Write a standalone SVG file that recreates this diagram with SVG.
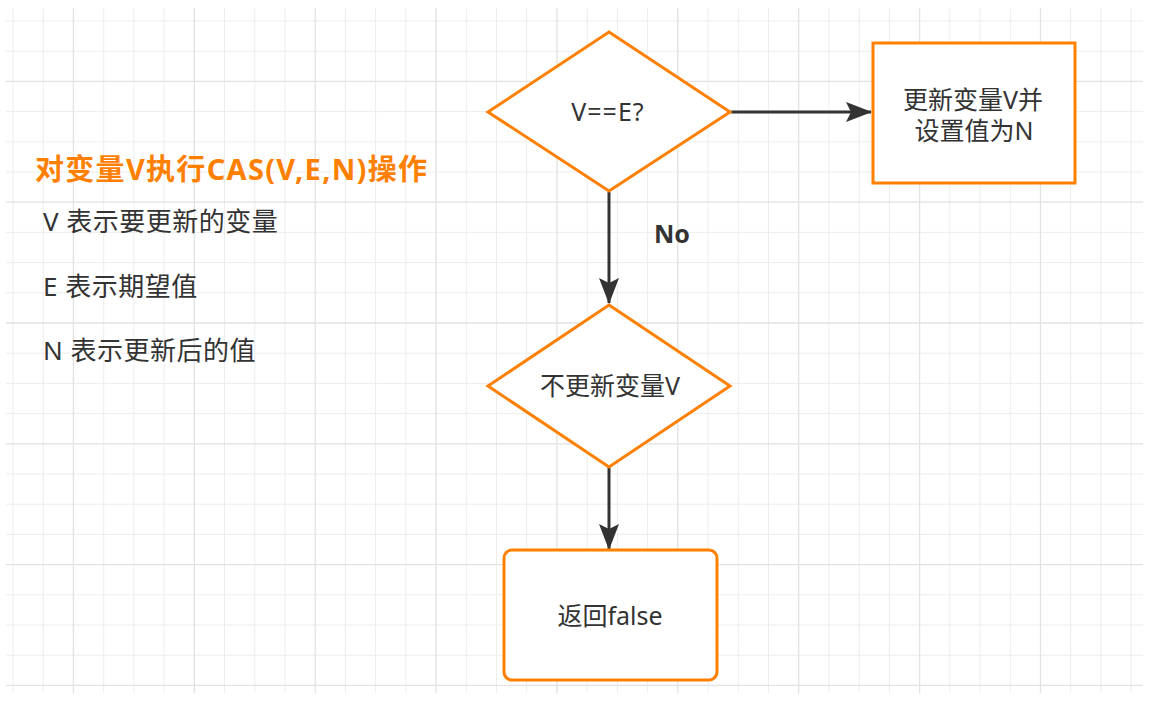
<svg xmlns="http://www.w3.org/2000/svg" width="1154" height="709" viewBox="0 0 1154 709">
<style>
.minor{stroke:#ededed;stroke-width:1;fill:none}
.major{stroke:#e2e2e2;stroke-width:1.3;fill:none}
.shape{fill:#ffffff;stroke:#ff8000;stroke-width:3}
.edge{stroke:#333333;stroke-width:3;fill:none}
.t{font-family:"Noto Sans","Noto Sans CJK SC",sans-serif;font-size:25px;fill:#333333}
.b{font-size:26px;letter-spacing:0.5px}
.c{text-anchor:middle}
.title{font-family:"Noto Sans","Noto Sans CJK SC",sans-serif;font-size:29px;font-weight:bold;fill:#ff8000;letter-spacing:1.3px}
.lbl{font-family:"Noto Sans","Noto Sans CJK SC",sans-serif;font-size:25px;font-weight:bold;fill:#333333}
</style>
<defs>
<marker id="arr" viewBox="0 0 26 20" refX="25" refY="10" markerWidth="26" markerHeight="20" markerUnits="userSpaceOnUse" orient="auto">
<path d="M0,0 L26,10 L0,20 L5,10 Z" fill="#333333"/>
</marker>
</defs>
<rect x="0" y="0" width="1154" height="709" fill="#ffffff"/>
<g id="grid">
<path class="minor" d="M13 8V693M43.2 8V693M103.7 8V693M133.9 8V693M164.1 8V693M224.5 8V693M254.8 8V693M285 8V693M345.4 8V693M375.6 8V693M405.9 8V693M466.3 8V693M496.5 8V693M526.7 8V693M587.2 8V693M617.4 8V693M647.6 8V693M708.1 8V693M738.3 8V693M768.5 8V693M828.9 8V693M859.2 8V693M889.4 8V693M949.8 8V693M980 8V693M1010.3 8V693M1070.7 8V693M1100.9 8V693M1131.1 8V693M6 21H1143M6 51.2H1143M6 111.6H1143M6 141.8H1143M6 172H1143M6 232.4H1143M6 262.6H1143M6 292.8H1143M6 353.2H1143M6 383.4H1143M6 413.6H1143M6 474H1143M6 504.2H1143M6 534.4H1143M6 594.8H1143M6 625H1143M6 655.2H1143"/>
<path class="major" d="M73.4 8V693M194.3 8V693M315.2 8V693M436.1 8V693M557 8V693M677.8 8V693M798.7 8V693M919.6 8V693M1040.5 8V693M6 81.4H1143M6 202.2H1143M6 323H1143M6 443.8H1143M6 564.6H1143M6 685.4H1143"/>
</g>
<g id="legend">
<text class="title" x="35" y="180">对变量V执行CAS(V,E,N)操作</text>
<text class="t b" x="43" y="231">V 表示要更新的变量</text>
<text class="t b" x="43" y="296">E 表示期望值</text>
<text class="t b" x="43" y="360">N 表示更新后的值</text>
</g>
<g id="connectors">
<path class="edge" d="M731 112H871" marker-end="url(#arr)"/>
<path class="edge" d="M609 192V303" marker-end="url(#arr)"/>
<path class="edge" d="M609 467V549" marker-end="url(#arr)"/>
<text class="lbl" x="672" y="243" text-anchor="middle">No</text>
</g>
<g id="decision1">
<polygon class="shape" points="609,32 730,112 609,191 488,112"/>
<text class="t c" x="608" y="121" letter-spacing="1">V==E?</text>
</g>
<g id="update">
<rect class="shape" x="873" y="43" width="202" height="140"/>
<text class="t c" x="973" y="109">更新变量V并</text>
<text class="t c" x="974" y="140">设置值为N</text>
</g>
<g id="decision2">
<polygon class="shape" points="609,305 730,386 609,467 488,386"/>
<text class="t c" x="610" y="395">不更新变量V</text>
</g>
<g id="returnFalse">
<rect class="shape" x="504" y="550" width="213" height="130" rx="8" ry="8"/>
<text class="t c" x="610" y="625">返回false</text>
</g>
</svg>
